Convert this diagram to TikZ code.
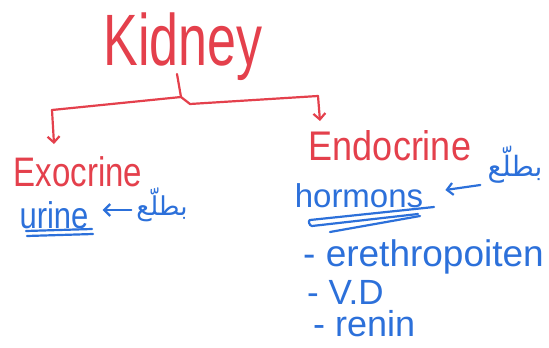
\documentclass[tikz,border=0pt]{standalone}
\usepackage{fontspec}
\setmainfont{Liberation Sans}
\newfontfamily\arabicfont[Script=Arabic]{DejaVu Sans}
\TeXXeTstate=1
\usetikzlibrary{arrows.meta}
\definecolor{inkred}{RGB}{228,64,76}
\definecolor{inkblue}{RGB}{44,112,218}
\tikzset{
  redtxt/.style={text=inkred, inner sep=0pt, anchor=center},
  bluetxt/.style={text=inkblue, inner sep=0pt, anchor=center},
  redink/.style={draw=inkred, line width=2.2pt, line cap=round, line join=round},
  blueink/.style={draw=inkblue, line width=2.2pt, line cap=round, line join=round},
  hook/.style={-{Straight Barb[length=6pt,width=12pt]}},
}
\begin{document}
\begin{tikzpicture}[x=1pt,y=-1pt]
\useasboundingbox[fill=white] (0,0) rectangle (549,348);
% title
\node[redtxt, font=\fontsize{52}{52}\selectfont, yscale=1.4] (kid) at (183,47) {Kidney};
% branches
\node[redtxt, font=\fontsize{33}{33}\selectfont, yscale=1.25] (exo) at (78,172) {Exocrine};
\node[redtxt, font=\fontsize{36}{36}\selectfont, yscale=1.15] (endo) at (390,146) {Endocrine};
% brace connector
\coordinate (top) at (177,74);
\coordinate (tip) at (181,97);
\coordinate (lc) at (52,110);
\coordinate (rc) at (318,96);
\draw[redink] (top) -- (tip) -- (lc);
\draw[redink] (tip) -- (190,104) -- (rc);
\draw[redink, hook] (lc) -- (54,144);
\draw[redink, hook] (rc) -- (320,121);
% exocrine part
\node[bluetxt, font=\fontsize{31}{31}\selectfont, yscale=1.2] (urine) at (54,215) {urine};
\node[bluetxt, font=\arabicfont\fontsize{26}{26}\selectfont] (ar1) at (162,205) {\beginR بطلّع\endR};
\draw[blueink, -{Straight Barb[length=6pt,width=12pt]}] ([xshift=-5pt,yshift=-5pt]ar1.west) -- ([xshift=14pt,yshift=5pt]urine.east);
\draw[blueink] (26,231) -- (92,229);
\draw[blueink] (27,236) -- (93,234);
% endocrine part
\node[bluetxt, font=\fontsize{33}{33}\selectfont] (horm) at (359,196) {hormons};
\node[bluetxt, font=\arabicfont\fontsize{28}{28}\selectfont] (ar2) at (515,165) {\beginR بطلّع\endR};
\draw[blueink, -{Straight Barb[length=6pt,width=12pt]}] ([xshift=-7pt,yshift=-20pt]ar2.west) -- ([xshift=22pt,yshift=6pt]horm.east);
\draw[blueink] (434,207) -- (310,220) to[out=190,in=180] (312,226) -- (418,214);
\draw[blueink] (330,232) -- (420,216);
% list
\node[bluetxt, anchor=base west, font=\fontsize{37}{37}\selectfont] (l1) at (303,266) {- erethropoiten};
\node[bluetxt, anchor=base west, text depth=0pt, font=\fontsize{35}{35}\selectfont] (l2) at (307,304) {- V.D};
\node[bluetxt, anchor=base west, text height=18pt, font=\fontsize{36}{36}\selectfont] (l3) at (313,336) {- renin};
\end{tikzpicture}
\end{document}
